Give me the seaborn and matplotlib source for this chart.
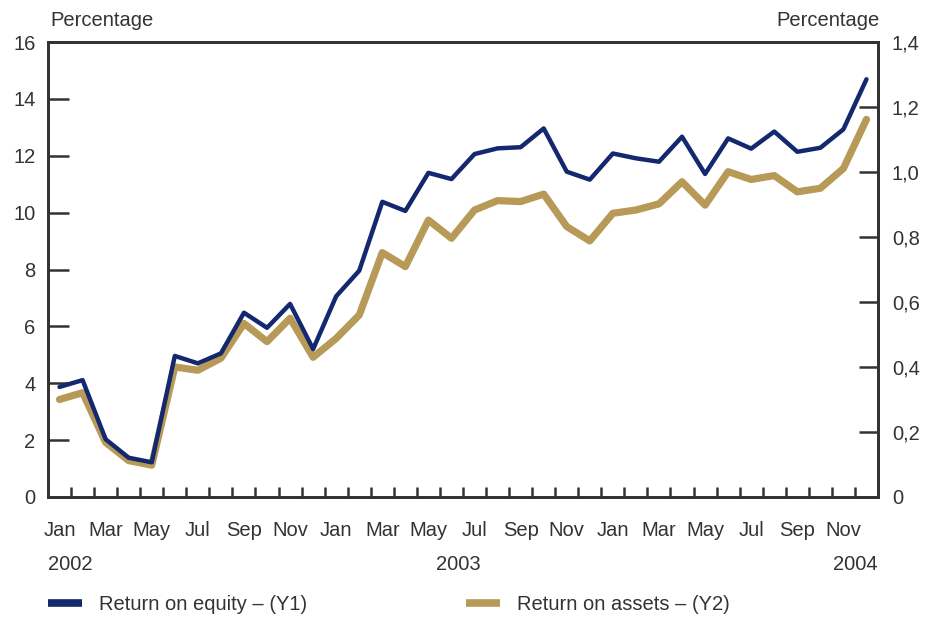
import matplotlib
matplotlib.use("Agg")
import matplotlib.pyplot as plt
import seaborn as sns
import pandas as pd
import numpy as np
from matplotlib.lines import Line2D

months = ["Jan", "Feb", "Mar", "Apr", "May", "Jun", "Jul", "Aug", "Sep", "Oct", "Nov", "Dec"]
years = ["2002", "2003", "2004"]
tick_months = ["Jan", "Mar", "May", "Jul", "Sep", "Nov"]

roe = [3.87, 4.11, 2.03, 1.38, 1.22, 4.96, 4.70, 5.05, 6.48, 5.95, 6.79, 5.20,
       7.06, 7.96, 10.38, 10.06, 11.40, 11.18, 12.06, 12.26, 12.30, 12.96, 11.44, 11.16,
       12.08, 11.91, 11.79, 12.67, 11.36, 12.61, 12.25, 12.85, 12.14, 12.28, 12.93, 14.69]
roa = [0.300, 0.321, 0.168, 0.112, 0.098, 0.400, 0.390, 0.427, 0.534, 0.478, 0.550, 0.430,
       0.488, 0.560, 0.752, 0.709, 0.852, 0.796, 0.883, 0.912, 0.909, 0.932, 0.832, 0.788,
       0.873, 0.883, 0.902, 0.970, 0.898, 1.001, 0.977, 0.989, 0.939, 0.950, 1.011, 1.162]

labels = [f"{m} {y}" for y in years for m in months]
df = pd.DataFrame({"idx": np.arange(len(labels)), "label": labels, "roe": roe, "roa": roa})

sns.set_theme(style="white")
plt.rcParams["font.family"] = ["Liberation Sans", "DejaVu Sans"]

navy = "#13286e"
gold = "#b89a58"
txt = "#333333"

fig = plt.figure(figsize=(9.29, 6.17), dpi=100)
ax = fig.add_axes([48/929, 1-497/617, (878-48)/929, (497-42)/617])
ax2 = ax.twinx()

sns.lineplot(data=df, x="idx", y="roa", ax=ax2, color=gold, linewidth=5.2, zorder=1)
sns.lineplot(data=df, x="idx", y="roe", ax=ax, color=navy, linewidth=3.2, zorder=2)
ax.set_zorder(ax2.get_zorder() + 1)
ax.patch.set_visible(False)

ax.set_xlim(-0.5, len(labels) - 0.5)
ax.set_ylim(0, 16)
ax2.set_ylim(0, 1.4)

ax.set_yticks(np.arange(0, 17, 2))
ax.set_yticklabels([str(v) for v in range(0, 17, 2)])
r_ticks = np.arange(0, 1.41, 0.2)
ax2.set_yticks(r_ticks)
ax2.set_yticklabels(["0"] + [f"{v:.1f}".replace(".", ",") for v in r_ticks[1:]])

major_pos = [i for i, l in enumerate(labels) if l.split()[0] in tick_months]
ax.set_xticks(major_pos)
ax.set_xticklabels([labels[i].split()[0] for i in major_pos])
ax.set_xticks(np.arange(0.5, len(labels) - 1, 1.0), minor=True)
ax.set_xlabel("")
ax.set_ylabel("")
ax2.set_ylabel("")

fs = 14.5
ax.tick_params(axis="x", which="major", length=0, pad=17, labelsize=fs, labelcolor=txt)
ax.tick_params(axis="x", which="minor", direction="in", length=7, width=1.8, color=txt, bottom=True)
ax.tick_params(axis="y", direction="in", length=15, width=1.8, color=txt, labelsize=fs, labelcolor=txt, pad=9, left=True)
ax2.tick_params(axis="y", direction="in", length=14, width=1.8, color=txt, labelsize=fs, labelcolor=txt, pad=10, right=True)

for a in (ax, ax2):
    for s in a.spines.values():
        s.set_color(txt)
        s.set_linewidth(2.0)

fig.text(50/929, 1-20/617, "Percentage", ha="left", va="center", fontsize=fs, color=txt)
fig.text(880/929, 1-20/617, "Percentage", ha="right", va="center", fontsize=fs, color=txt)

year_y = 1 - 565/617
fig.text(48/929, year_y, "2002", ha="left", va="center", fontsize=fs, color=txt)
fig.text(458/929, year_y, "2003", ha="center", va="center", fontsize=fs, color=txt)
fig.text(878/929, year_y, "2004", ha="right", va="center", fontsize=fs, color=txt)

h1 = Line2D([], [], color=navy, linewidth=5.5, solid_capstyle="butt")
h2 = Line2D([], [], color=gold, linewidth=5.5, solid_capstyle="butt")
leg_kw = dict(loc="center left", frameon=False, fontsize=fs, handlelength=1.7,
              handletextpad=0.85, labelcolor=txt, borderaxespad=0, borderpad=0)
leg1 = fig.legend([h1], ["Return on equity – (Y1)"], bbox_to_anchor=(48/929, 1-605/617), **leg_kw)
leg2 = fig.legend([h2], ["Return on assets – (Y2)"], bbox_to_anchor=(466/929, 1-605/617), **leg_kw)

fig.savefig("out.png", dpi=100)
